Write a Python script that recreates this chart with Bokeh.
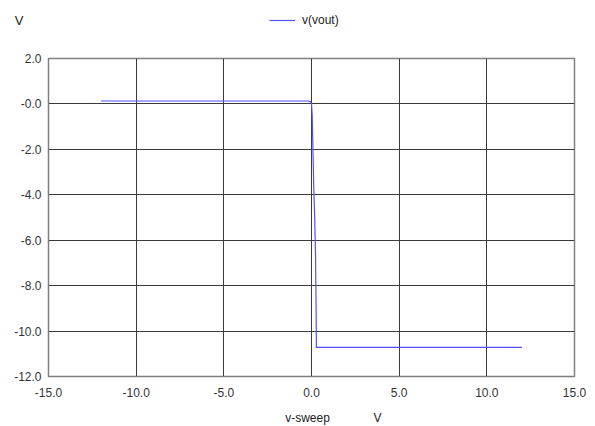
from bokeh.plotting import figure
from bokeh.models import Range1d, FixedTicker, Label, Legend, LegendItem
from bokeh.layouts import column
from bokeh.embed import file_html
from bokeh.resources import INLINE

# data
sweep = [-12.0, -0.2, -0.05, 0.0, 0.04, 0.07, 0.10, 0.13, 0.18, 0.23, 0.26, 0.28, 12.0]
vout = [0.13, 0.13, 0.10, 0.0, -0.5, -1.6, -2.6, -3.7, -5.0, -6.6, -8.8, -10.72, -10.72]

x_ticks = [-15, -10, -5, 0, 5, 10, 15]
x_tick_labels = ["-15.0", "-10.0", "-5.0", "0.0", "5.0", "10.0", "15.0"]
y_ticks = [-12, -10, -8, -6, -4, -2, 0, 2]
y_tick_labels = ["-12.0", "-10.0", "-8.0", "-6.0", "-4.0", "-2.0", "-0.0", "2.0"]

series_name = "v(vout)"
y_unit = "V"
x_name = "v-sweep"
x_unit = "V"

FONT = "Liberation Sans"
LINE_COLOR = "#5050ff"
TXT = "#222222"

# ---------- header (unit label + legend) ----------
head = figure(width=595, height=40, output_backend="svg", toolbar_location=None,
              x_range=Range1d(-15, 15), y_range=Range1d(100, 101),
              x_axis_location=None, y_axis_location="left", min_border=0)
head.outline_line_color = None
head.grid.visible = False
head.background_fill_color = "white"
head.border_fill_color = "white"
ya = head.yaxis[0]
ya.ticker = FixedTicker(ticks=[])
ya.axis_line_color = None
ya.major_tick_in = ya.major_tick_out = 0
ya.minor_tick_in = ya.minor_tick_out = 0
ya.axis_label = y_unit
ya.axis_label_orientation = "horizontal"
ya.axis_label_standoff = 25
ya.axis_label_text_font = FONT
ya.axis_label_text_font_size = "13px"
ya.axis_label_text_font_style = "normal"
ya.axis_label_text_color = TXT
hr = head.line(sweep, vout, line_color=LINE_COLOR, line_width=1.2)
legend = Legend(items=[LegendItem(label=series_name, renderers=[hr])],
                location=(221, 10), orientation="horizontal",
                border_line_color=None, background_fill_alpha=0,
                padding=0, margin=0, glyph_width=26, glyph_height=20,
                label_height=20, label_standoff=7,
                label_text_font=FONT, label_text_font_size="12px", label_text_color=TXT)
head.add_layout(legend, "center")

# ---------- main plot ----------
p = figure(frame_width=526, frame_height=318, output_backend="svg", toolbar_location=None,
           x_range=Range1d(-15, 15), y_range=Range1d(-12, 2),
           min_border_left=48, min_border_right=21, min_border_top=18, min_border_bottom=26)
p.background_fill_color = "white"
p.border_fill_color = "white"
p.outline_line_color = "#808080"
p.outline_line_width = 1.5

for ax, ticks, labels in ((p.xaxis[0], x_ticks, x_tick_labels), (p.yaxis[0], y_ticks, y_tick_labels)):
    ax.ticker = FixedTicker(ticks=ticks)
    ax.major_label_overrides = {t: l for t, l in zip(ticks, labels)}
    ax.major_tick_in = 0
    ax.major_tick_out = 0
    ax.minor_tick_in = 0
    ax.minor_tick_out = 0
    ax.axis_line_color = "#808080"
    ax.major_label_text_font = FONT
    ax.major_label_text_font_size = "12px"
    ax.major_label_text_color = "#333333"
p.xaxis.major_label_standoff = 11
p.yaxis.major_label_standoff = 7

p.xgrid.grid_line_color = "#3a3a3a"
p.ygrid.grid_line_color = "#3a3a3a"

p.line(sweep, vout, line_color=LINE_COLOR, line_width=1.2)

# ---------- footer (x axis name + unit) ----------
foot = figure(width=595, height=24, output_backend="svg", toolbar_location=None,
              x_range=Range1d(-15, 15), y_range=Range1d(-12, 2),
              x_axis_location=None, y_axis_location=None, min_border=0)
foot.outline_line_color = None
foot.grid.visible = False
foot.background_fill_color = "white"
foot.border_fill_color = "white"
for xx, t in ((259, x_name), (329, x_unit)):
    foot.add_layout(Label(x=xx, y=9, x_units="screen", y_units="screen", text=t,
                          text_font=FONT, text_font_size="12px", text_color=TXT,
                          text_align="center", text_baseline="middle"))

layout = column(head, p, foot, spacing=0)
open("out.html", "w").write(file_html(layout, INLINE))
